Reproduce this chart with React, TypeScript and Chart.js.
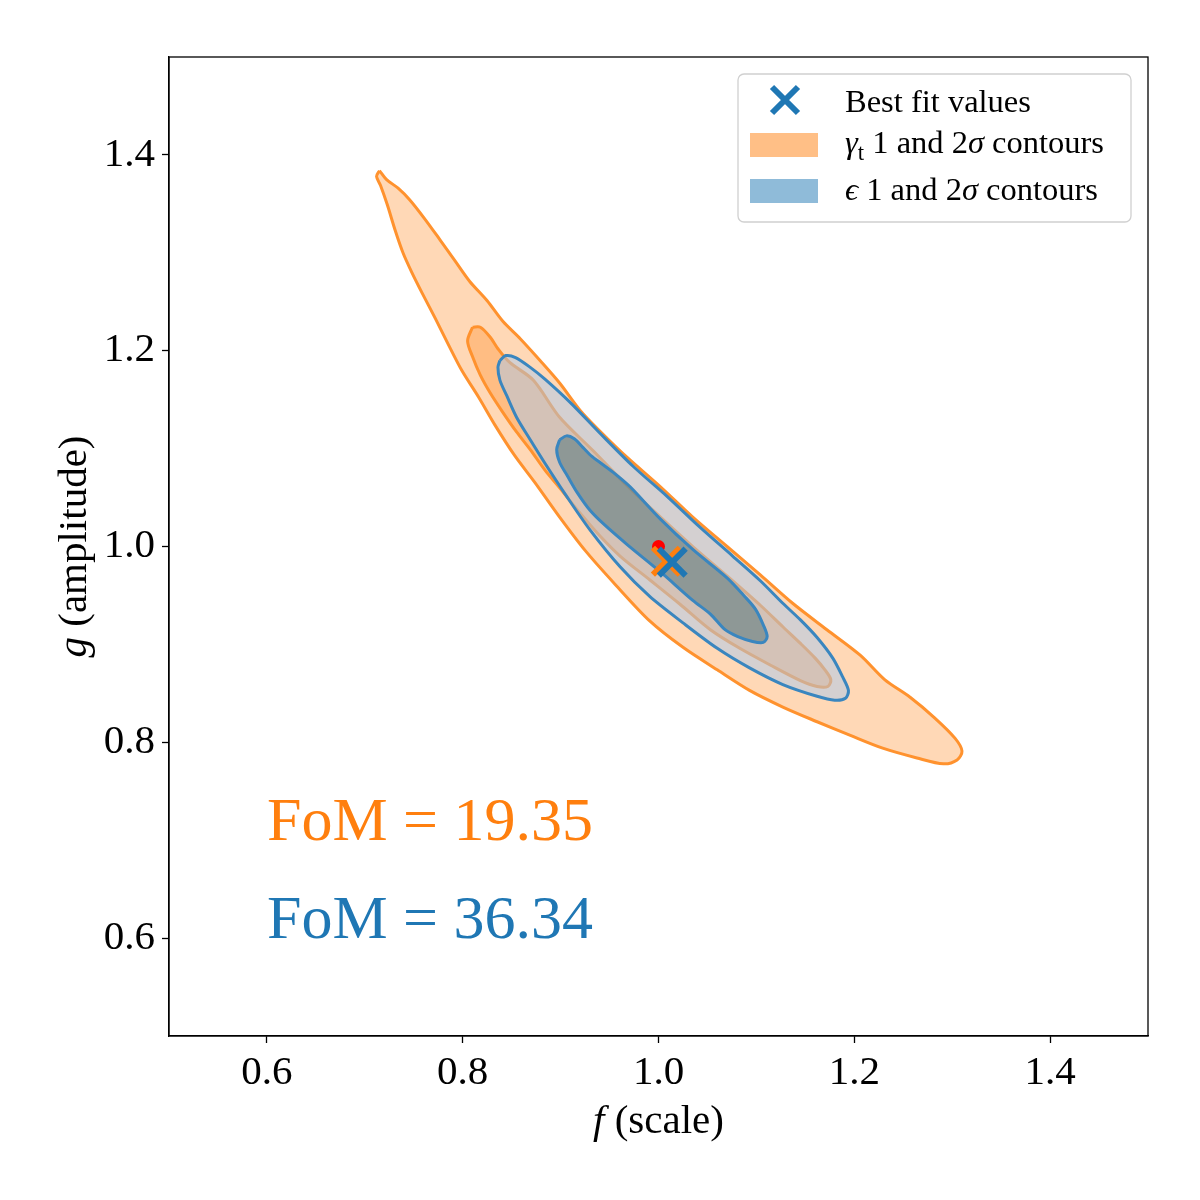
import { useEffect, useRef } from "react";
import { Chart, registerables } from "chart.js";
Chart.register(...registerables);

const SERIF = '"Liberation Serif", "DejaVu Serif", serif';

const xTickValues = [0.6, 0.8, 1.0, 1.2, 1.4];
const yTickValues = [0.6, 0.8, 1.0, 1.2, 1.4];

// gamma_t 2 sigma contour
const gamma2sigX = [0.715,0.722,0.734,0.746,0.761,0.777,0.792,0.807,0.825,0.841,0.859,0.879,0.899,0.920,0.940,0.968,1.002,1.035,1.070,1.104,1.137,1.172,1.206,1.231,1.257,1.282,1.303,1.310,1.305,1.291,1.264,1.229,1.196,1.162,1.127,1.093,1.060,1.025,0.991,0.956,0.925,0.899,0.874,0.853,0.833,0.816,0.799,0.785,0.772,0.759,0.748,0.739,0.731,0.723,0.716,0.712];
const gamma2sigY = [1.384,1.375,1.366,1.354,1.335,1.313,1.292,1.271,1.251,1.230,1.212,1.190,1.167,1.139,1.118,1.091,1.061,1.030,1.000,0.971,0.942,0.915,0.889,0.864,0.846,0.825,0.804,0.791,0.782,0.778,0.784,0.794,0.807,0.821,0.836,0.853,0.874,0.897,0.924,0.961,0.996,1.030,1.065,1.093,1.124,1.153,1.180,1.207,1.233,1.258,1.280,1.300,1.323,1.349,1.369,1.378];

// gamma_t 1 sigma contour
const gamma1sigX = [0.810,0.818,0.828,0.836,0.848,0.872,0.899,0.933,0.968,1.002,1.035,1.070,1.104,1.127,1.145,1.160,1.170,1.176,1.173,1.162,1.145,1.114,1.083,1.053,1.022,0.991,0.961,0.940,0.920,0.899,0.884,0.869,0.855,0.841,0.828,0.818,0.810,0.805];
const gamma1sigY = [1.224,1.224,1.214,1.202,1.188,1.170,1.132,1.098,1.062,1.030,1.000,0.970,0.940,0.918,0.901,0.886,0.874,0.864,0.857,0.857,0.863,0.879,0.896,0.915,0.941,0.966,0.990,1.011,1.034,1.060,1.078,1.099,1.117,1.137,1.157,1.175,1.194,1.210];

// epsilon 2 sigma contour
const eps2sigX = [0.838,0.844,0.854,0.869,0.884,0.910,0.940,0.974,1.009,1.042,1.076,1.104,1.127,1.145,1.162,1.178,1.188,1.194,1.191,1.180,1.162,1.127,1.093,1.060,1.025,0.991,0.961,0.930,0.905,0.884,0.869,0.855,0.845,0.838,0.836];
const eps2sigY = [1.190,1.195,1.193,1.183,1.171,1.147,1.116,1.082,1.051,1.020,0.990,0.965,0.942,0.925,0.907,0.886,0.867,0.853,0.845,0.843,0.847,0.859,0.876,0.896,0.922,0.949,0.979,1.017,1.053,1.085,1.109,1.132,1.154,1.170,1.183];

// epsilon 1 sigma contour
const eps1sigX = [0.899,0.906,0.914,0.923,0.932,0.940,0.956,0.971,1.002,1.035,1.070,1.088,1.099,1.107,1.111,1.107,1.096,1.081,1.068,1.053,1.035,1.002,0.968,0.945,0.930,0.917,0.907,0.899,0.896];
const eps1sigY = [1.109,1.113,1.110,1.101,1.092,1.086,1.074,1.061,1.028,0.997,0.968,0.949,0.936,0.920,0.908,0.902,0.903,0.908,0.915,0.931,0.945,0.974,1.002,1.022,1.037,1.055,1.072,1.086,1.099];

const truthPoint = [1.0, 1.0];
const gammaBest = [1.008, 0.985];
const epsBest = [1.014, 0.984];

const fomLabels = ["FoM = 19.35", "FoM = 36.34"];
const fomX = [0.6, 0.6];
const fomY = [0.7, 0.6];

const ORANGE = "#ff7f0e";
const BLUE = "#1f77b4";

type Part = { t: string; it?: boolean; sub?: boolean };

const closed = (xs: number[], ys: number[]) => {
  const pts = xs.map((x, i) => ({ x, y: ys[i] }));
  pts.push({ x: xs[0], y: ys[0] });
  return pts;
};

function partFont(p: Part, size: number) {
  const s = p.sub ? size * 0.7 : size;
  return `${p.it ? "italic " : ""}${s}px ${SERIF}`;
}

function measureParts(ctx: CanvasRenderingContext2D, parts: Part[], size: number) {
  let w = 0;
  for (const p of parts) {
    ctx.font = partFont(p, size);
    w += ctx.measureText(p.t).width;
  }
  return w;
}

function drawParts(ctx: CanvasRenderingContext2D, parts: Part[], x: number, y: number, size: number) {
  let cx = x;
  for (const p of parts) {
    ctx.font = partFont(p, size);
    ctx.fillText(p.t, cx, p.sub ? y + size * 0.22 : y);
    cx += ctx.measureText(p.t).width;
  }
}

const xTitle: Part[] = [{ t: "f", it: true }, { t: " (scale)" }];
const yTitle: Part[] = [{ t: "g", it: true }, { t: " (amplitude)" }];
const legendRows: Part[][] = [
  [{ t: "Best fit values" }],
  [{ t: "γ", it: true }, { t: "t", sub: true }, { t: " 1 and 2" }, { t: "σ", it: true }, { t: " contours" }],
  [{ t: "ϵ", it: true }, { t: " 1 and 2" }, { t: "σ", it: true }, { t: " contours" }],
];

const overlay = {
  id: "overlay",
  afterDraw(chart: any) {
    const { ctx, chartArea: a, scales } = chart;
    const xs = scales.x;
    const ys = scales.y;
    ctx.save();
    ctx.strokeStyle = "#000";
    ctx.lineWidth = 1.3;
    ctx.strokeRect(a.left, a.top, a.right - a.left, a.bottom - a.top);

    // FoM labels
    ctx.textAlign = "left";
    ctx.textBaseline = "alphabetic";
    ctx.font = `62px ${SERIF}`;
    fomLabels.forEach((t, i) => {
      ctx.fillStyle = i === 0 ? ORANGE : BLUE;
      ctx.fillText(t, xs.getPixelForValue(fomX[i]), ys.getPixelForValue(fomY[i]));
    });

    // axis titles
    ctx.fillStyle = "#000";
    const tsize = 41;
    const xw = measureParts(ctx, xTitle, tsize);
    drawParts(ctx, xTitle, (a.left + a.right) / 2 - xw / 2, 1133, tsize);
    const yw = measureParts(ctx, yTitle, tsize);
    ctx.save();
    ctx.translate(86, (a.top + a.bottom) / 2);
    ctx.rotate(-Math.PI / 2);
    drawParts(ctx, yTitle, -yw / 2, 0, tsize);
    ctx.restore();

    // legend
    const lx = a.right - 17 - 393;
    const ly = a.top + 17;
    const lw = 393, lh = 148, r = 6;
    ctx.beginPath();
    ctx.moveTo(lx + r, ly);
    ctx.arcTo(lx + lw, ly, lx + lw, ly + lh, r);
    ctx.arcTo(lx + lw, ly + lh, lx, ly + lh, r);
    ctx.arcTo(lx, ly + lh, lx, ly, r);
    ctx.arcTo(lx, ly, lx + lw, ly, r);
    ctx.closePath();
    ctx.fillStyle = "rgba(255,255,255,0.85)";
    ctx.fill();
    ctx.strokeStyle = "#d0d0d0";
    ctx.lineWidth = 1.3;
    ctx.stroke();

    // marker row
    const mx = lx + 47, my = ly + 26, mh = 13;
    ctx.strokeStyle = BLUE;
    ctx.lineWidth = 6;
    ctx.beginPath();
    ctx.moveTo(mx - mh, my - mh); ctx.lineTo(mx + mh, my + mh);
    ctx.moveTo(mx - mh, my + mh); ctx.lineTo(mx + mh, my - mh);
    ctx.stroke();
    // patches
    ctx.fillStyle = "rgba(255,127,14,0.5)";
    ctx.fillRect(lx + 12, ly + 59, 68, 24);
    ctx.fillStyle = "rgba(31,119,180,0.5)";
    ctx.fillRect(lx + 12, ly + 105, 68, 24);

    ctx.fillStyle = "#000";
    const lsize = 32.5;
    drawParts(ctx, legendRows[0], lx + 107, ly + 38, lsize);
    drawParts(ctx, legendRows[1], lx + 107, ly + 79, lsize);
    drawParts(ctx, legendRows[2], lx + 107, ly + 126, lsize);
    ctx.restore();
  },
};

export default function App() {
  const ref = useRef<HTMLCanvasElement | null>(null);
  useEffect(() => {
    if (!ref.current) return;
    const contour = (data: any, fillColor: string, lineColor: string, order: number) => ({
      data,
      showLine: true,
      fill: "shape",
      backgroundColor: fillColor,
      borderColor: lineColor,
      borderWidth: 3,
      pointRadius: 0,
      tension: 0.3,
      order,
    });
    const marker = (pt: number[], style: string, color: string, radius: number, bw: number, order: number) => ({
      data: [{ x: pt[0], y: pt[1] }],
      showLine: false,
      pointStyle: style,
      pointRadius: radius,
      pointBorderColor: color,
      pointBackgroundColor: color,
      pointBorderWidth: bw,
      order,
    });
    const chart = new Chart(ref.current, {
      type: "scatter",
      data: {
        datasets: [
          contour(closed(gamma2sigX, gamma2sigY), "rgba(255,127,14,0.3)", "#ff922e", 7),
          contour(closed(gamma1sigX, gamma1sigY), "rgba(255,127,14,0.3)", "#ff922e", 6),
          contour(closed(eps2sigX, eps2sigY), "rgba(170,200,235,0.5)", "#3a86bf", 5),
          contour(closed(eps1sigX, eps1sigY), "rgba(72,110,118,0.5)", "#3a86bf", 4),
          marker(truthPoint, "circle", "#ff0000", 6.5, 0, 3),
          marker(gammaBest, "crossRot", ORANGE, 19, 6, 2),
          marker(epsBest, "crossRot", BLUE, 19, 6, 1),
        ] as any,
      },
      options: {
        responsive: false,
        animation: false,
        layout: { padding: { top: 57, right: 52, left: 0, bottom: 0 } },
        plugins: { legend: { display: false }, tooltip: { enabled: false } },
        scales: {
          x: {
            type: "linear",
            min: 0.5,
            max: 1.5,
            afterBuildTicks: (s: any) => { s.ticks = xTickValues.map((v) => ({ value: v })); },
            afterFit: (s: any) => { s.height = 164; },
            ticks: {
              font: { family: SERIF, size: 41 },
              color: "#000",
              padding: 6,
              maxRotation: 0,
              callback: (v: any) => Number(v).toFixed(1),
            },
            grid: { drawOnChartArea: false, drawTicks: true, tickLength: 7, tickWidth: 1.3, tickColor: "#000" },
            border: { display: true, color: "#000", width: 1.3 },
          },
          y: {
            type: "linear",
            min: 0.5,
            max: 1.5,
            afterBuildTicks: (s: any) => { s.ticks = yTickValues.map((v) => ({ value: v })); },
            afterFit: (s: any) => { s.width = 169; },
            ticks: {
              font: { family: SERIF, size: 41 },
              color: "#000",
              padding: 7,
              callback: (v: any) => Number(v).toFixed(1),
            },
            grid: { drawOnChartArea: false, drawTicks: true, tickLength: 7, tickWidth: 1.3, tickColor: "#000" },
            border: { display: true, color: "#000", width: 1.3 },
          },
        },
      } as any,
      plugins: [overlay],
    });
    return () => chart.destroy();
  }, []);
  return (
    <div style={{ position: "absolute", left: 0, top: 0, width: 1200, height: 1200, background: "#fff" }}>
      <canvas ref={ref} width={1200} height={1200} style={{ width: 1200, height: 1200, display: "block" }} />
    </div>
  );
}
